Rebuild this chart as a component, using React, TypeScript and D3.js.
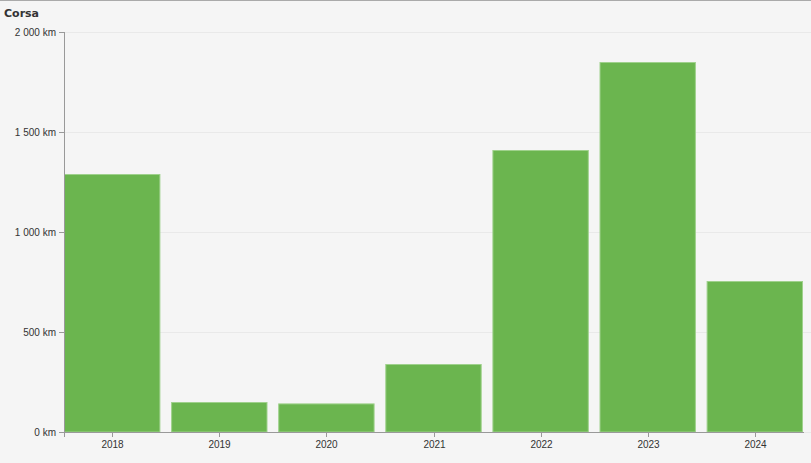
import React from "react";
import * as d3 from "d3";

const categories = ["2018", "2019", "2020", "2021", "2022", "2023", "2024"];
const values = [1290, 150, 143, 340, 1410, 1850, 755];
const yTicks = [0, 500, 1000, 1500, 2000];
const title = "Corsa";

export default function App() {
  const W = 811, H = 463;
  const left = 64, right = 803, top = 32, bottom = 432;
  const x = d3.scaleBand<string>().domain(categories).range([left, right]).paddingInner(0.1).paddingOuter(0);
  const y = d3.scaleLinear().domain([0, 2000]).range([bottom, top]);
  const fmt = (v: number) => d3.format(",")(v).replace(/,/g, " ") + " km";
  return (
    <svg width={W} height={H} style={{ position: "absolute", left: 0, top: 0, background: "#f5f5f5" }}>
      <rect x={0} y={0} width={W} height={H} fill="#f5f5f5" />
      <line x1={0} x2={W} y1={0.5} y2={0.5} stroke="#aaa" />
      <text x={4} y={17} fontFamily="DejaVu Sans" fontWeight="bold" fontSize={11} fill="#333">{title}</text>
      {yTicks.map((t) => (
        <g key={t}>
          <line x1={left} x2={W} y1={y(t) + 0.5} y2={y(t) + 0.5} stroke="#e9e9e9" />
          <line x1={left - 5} x2={left} y1={y(t) + 0.5} y2={y(t) + 0.5} stroke="#999" />
          <text x={left - 8} y={y(t) + 3.5} textAnchor="end" fontFamily="Liberation Sans, Arial" fontSize={10} fill="#333">{fmt(t)}</text>
        </g>
      ))}
      {categories.map((c, i) => (
        <rect key={c} x={x(c)! + 0.5} y={y(values[i]) + 0.5} width={x.bandwidth() - 1} height={bottom - y(values[i]) - 0.5}
          fill="#6bb54f" stroke="#9fd18c" strokeWidth={1} />
      ))}
      <line x1={left + 0.5} x2={left + 0.5} y1={top} y2={bottom} stroke="#999" />
      <line x1={left} x2={right + 1} y1={bottom + 0.5} y2={bottom + 0.5} stroke="#999" />
      {categories.map((c) => {
        const cx = Math.round(x(c)! + x.bandwidth() / 2) + 0.5;
        return (
          <g key={c}>
            <line x1={cx} x2={cx} y1={bottom} y2={bottom + 5} stroke="#999" />
            <text x={cx} y={bottom + 16} textAnchor="middle" fontFamily="Liberation Sans, Arial" fontSize={10} fill="#333">{c}</text>
          </g>
        );
      })}
      <line x1={left + 0.5} x2={left + 0.5} y1={bottom} y2={bottom + 5} stroke="#999" />
    </svg>
  );
}
